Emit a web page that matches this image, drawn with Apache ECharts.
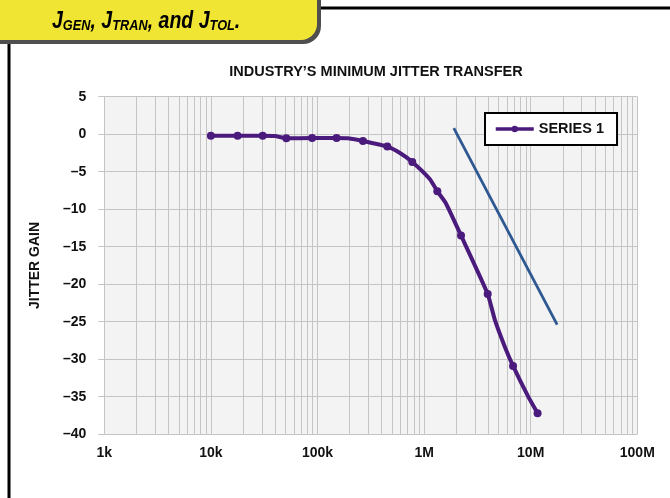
<!DOCTYPE html>
<html>
<head>
<meta charset="utf-8">
<script src="https://cdn.jsdelivr.net/npm/echarts@6/dist/echarts.min.js"></script>
<style>
html,body{margin:0;padding:0;background:#fff;}
#chart{width:670px;height:498px;}
</style>
</head>
<body>
<div id="chart"></div>
<script>
// ---- data ----
const chartTitle = "INDUSTRY\u2019S MINIMUM JITTER TRANSFER";
const yAxisName = "JITTER GAIN";
const seriesName = "SERIES 1";
const xTickLabels = ["1k", "10k", "100k", "1M", "10M", "100M"];
const yTicks = [5, 0, -5, -10, -15, -20, -25, -30, -35, -40];
// measured jitter transfer (Hz, dB); marked = point drawn with a marker
const seriesFreq = [10000, 17800, 30600, 40000, 51000, 89000, 151000, 193000, 267000, 452000, 594000, 775000, 1135000, 1330000, 1600000, 2220000, 3950000, 4620000, 5740000, 6830000, 9480000, 11600000];
const seriesGain = [-0.2, -0.2, -0.2, -0.25, -0.55, -0.5, -0.5, -0.55, -0.9, -1.65, -2.5, -3.7, -6.0, -7.6, -9.2, -13.5, -21.3, -24.8, -28.4, -30.9, -35.0, -37.2];
const seriesMarked = [1, 1, 1, 0, 1, 1, 1, 0, 1, 1, 0, 1, 0, 1, 0, 1, 1, 0, 0, 1, 0, 1];
// reference slope line
const slopeFreq = [1900000, 17700000];
const slopeGain = [0.8, -25.4];
// minor log gridlines
const decades = [1000, 10000, 100000, 1000000, 10000000];
const minorMultipliers = [2, 3, 4, 5, 6, 7, 8, 9];

// ---- build ----
const mainData = seriesFreq.map((f, i) => {
  const item = { value: [f, seriesGain[i]] };
  if (!seriesMarked[i]) item.symbol = 'none';
  return item;
});
const slopeData = slopeFreq.map((f, i) => [f, slopeGain[i]]);
const minorLines = [];
decades.forEach(d => minorMultipliers.forEach(m => minorLines.push({ xAxis: d * m })));

const gridColor = '#c4c4c4';
const purple = '#4b1a7d';
const blue = '#2e5892';
const FONT = '"Liberation Sans", Arial, Helvetica, sans-serif';

const chart = echarts.init(document.getElementById('chart'), null, { renderer: 'canvas' });
chart.setOption({
  animation: false,
  backgroundColor: '#fff',
  textStyle: { fontFamily: FONT },
  title: {
    text: chartTitle,
    left: 371,
    top: 59,
    textAlign: 'center',
    textStyle: { fontFamily: FONT, fontSize: 14.5, fontWeight: 'bold', color: '#111' }
  },
  grid: {
    left: 104.3, right: 32.7, top: 96.7, bottom: 63.8,
    show: true, backgroundColor: '#f3f3f3', borderWidth: 0
  },
  legend: {
    data: [seriesName],
    left: 485, top: 113,
    orient: 'horizontal',
    backgroundColor: '#fff',
    borderColor: '#000',
    borderWidth: 2,
    borderRadius: 0,
    padding: [8, 13, 8, 9],
    itemWidth: 38,
    itemHeight: 8,
    lineStyle: { width: 3.5 },
    textStyle: { fontFamily: FONT, fontSize: 14.5, fontWeight: 'bold', color: '#111', lineHeight: 16 }
  },
  xAxis: {
    type: 'log',
    logBase: 10,
    min: 1000,
    max: 100000000,
    axisLine: { show: false },
    axisTick: { show: false },
    axisLabel: {
      margin: 12,
      fontFamily: FONT, fontSize: 14, fontWeight: 'bold', color: '#111',
      formatter: v => xTickLabels[Math.round(Math.log10(v)) - 3]
    },
    splitLine: { show: true, lineStyle: { color: gridColor, width: 1 } }
  },
  yAxis: {
    type: 'value',
    min: -40, max: 5, interval: 5,
    name: yAxisName,
    nameLocation: 'middle',
    nameGap: 62,
    nameRotate: 90,
    nameTextStyle: { fontFamily: FONT, fontSize: 14, fontWeight: 'bold', color: '#111' },
    axisLine: { show: false },
    axisTick: { show: true, length: 6, lineStyle: { color: gridColor, width: 1 } },
    axisLabel: {
      margin: 18,
      fontFamily: FONT, fontSize: 14, fontWeight: 'bold', color: '#111',
      formatter: v => (v < 0 ? '\u2013' + (-v) : String(v))
    },
    splitLine: { show: true, lineStyle: { color: gridColor, width: 1 } }
  },
  series: [
    {
      name: 'minor-grid',
      type: 'line',
      data: [],
      z: 1,
      silent: true,
      markLine: {
        silent: true,
        z: 1,
        symbol: ['none', 'none'],
        label: { show: false },
        lineStyle: { color: gridColor, width: 1, type: 'solid' },
        emphasis: { disabled: true },
        animation: false,
        data: minorLines
      }
    },
    {
      name: 'slope',
      type: 'line',
      data: slopeData,
      symbol: 'none',
      z: 9,
      lineStyle: { color: blue, width: 2.8 }
    },
    {
      name: seriesName,
      type: 'line',
      data: mainData,
      smooth: 0.15,
      symbol: 'circle',
      symbolSize: 8,
      showAllSymbol: true,
      z: 10,
      itemStyle: { color: purple },
      lineStyle: { color: purple, width: 4 }
    }
  ],
  graphic: [
    { type: 'line', z: 100, shape: { x1: 9, y1: 20, x2: 9, y2: 498 }, style: { stroke: '#000', lineWidth: 3 } },
    { type: 'line', z: 100, shape: { x1: 300, y1: 8, x2: 670, y2: 8 }, style: { stroke: '#000', lineWidth: 3 } },
    { type: 'rect', z: 101, shape: { x: -20, y: -20, width: 341, height: 64, r: [0, 0, 18, 0] }, style: { fill: '#4f4f4f' } },
    { type: 'rect', z: 102, shape: { x: -20, y: -20, width: 337, height: 60, r: [0, 0, 16, 0] }, style: { fill: '#f1e534' } },
    {
      type: 'text', z: 103, left: 52, top: 7,
      scaleX: 0.85,
      style: {
        text: '{j|J}{s|GEN}{j|, J}{s|TRAN}{j|, and J}{s|TOL}{j|.}',
        fill: '#000',
        rich: {
          j: { fontFamily: FONT, fontSize: 23, fontWeight: 'bold', fontStyle: 'italic', lineHeight: 25, verticalAlign: 'bottom' },
          s: { fontFamily: FONT, fontSize: 15, fontWeight: 'bold', fontStyle: 'italic', lineHeight: 16, padding: [11, 0, 0, 0], verticalAlign: 'bottom' }
        }
      }
    }
  ]
});
</script>
</body>
</html>
